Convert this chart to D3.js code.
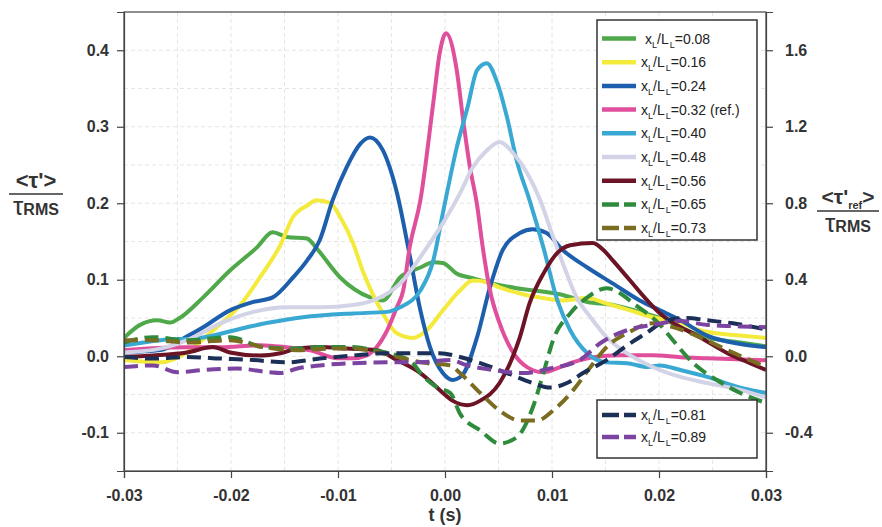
<!DOCTYPE html>
<html>
<head>
<meta charset="utf-8">
<script src="https://cdn.jsdelivr.net/npm/d3@7"></script>
<style>
  html, body { margin: 0; padding: 0; background: #ffffff; }
  svg { display: block; font-family: "Liberation Sans", Arial, sans-serif; }
</style>
</head>
<body>
<svg id="chart" width="882" height="527"></svg>
<script>
// ---------- data (t in s, value = <tau'>/tau_RMS ; ref series on right axis) ----------
const xTicks = [-0.03, -0.02, -0.01, 0.00, 0.01, 0.02, 0.03];
const yLeftTicks = [-0.1, 0.0, 0.1, 0.2, 0.3, 0.4];
const yRightTicks = [-0.4, 0.0, 0.4, 0.8, 1.2, 1.6];

const s008 = [[-0.0300,0.024],[-0.0285,0.041],[-0.0269,0.047],[-0.0257,0.044],[-0.0248,0.050],[-0.0226,0.077],[-0.0201,0.112],[-0.0176,0.142],[-0.0161,0.162],[-0.0148,0.156],[-0.0129,0.154],[-0.0120,0.141],[-0.0098,0.103],[-0.0070,0.077],[-0.0058,0.073],[-0.0042,0.103],[-0.0023,0.116],[-0.0011,0.123],[-0.0002,0.122],[0.0011,0.108],[0.0026,0.102],[0.0045,0.095],[0.0067,0.089],[0.0089,0.085],[0.0107,0.081],[0.0133,0.071],[0.0157,0.067],[0.0182,0.058],[0.0201,0.050],[0.0220,0.038],[0.0238,0.027],[0.0276,0.018],[0.0300,0.013]];
const s016 = [[-0.0300,-0.005],[-0.0266,-0.008],[-0.0238,0.008],[-0.0220,0.030],[-0.0189,0.071],[-0.0173,0.103],[-0.0154,0.145],[-0.0142,0.182],[-0.0129,0.197],[-0.0120,0.204],[-0.0107,0.200],[-0.0098,0.182],[-0.0086,0.148],[-0.0077,0.112],[-0.0058,0.056],[-0.0045,0.030],[-0.0030,0.024],[-0.0017,0.034],[-0.0002,0.060],[0.0014,0.086],[0.0026,0.099],[0.0039,0.097],[0.0051,0.090],[0.0070,0.082],[0.0092,0.076],[0.0110,0.073],[0.0133,0.076],[0.0151,0.069],[0.0173,0.060],[0.0194,0.051],[0.0220,0.044],[0.0238,0.034],[0.0276,0.027],[0.0300,0.024]];
const s024 = [[-0.0300,0.005],[-0.0266,0.008],[-0.0241,0.026],[-0.0226,0.038],[-0.0201,0.060],[-0.0179,0.071],[-0.0161,0.077],[-0.0142,0.103],[-0.0129,0.125],[-0.0117,0.152],[-0.0105,0.204],[-0.0092,0.247],[-0.0079,0.278],[-0.0070,0.286],[-0.0058,0.269],[-0.0045,0.214],[-0.0033,0.132],[-0.0023,0.060],[-0.0014,0.012],[-0.0002,-0.022],[0.0007,-0.031],[0.0016,-0.025],[0.0030,0.025],[0.0042,0.090],[0.0054,0.139],[0.0070,0.161],[0.0082,0.166],[0.0095,0.161],[0.0110,0.139],[0.0133,0.116],[0.0157,0.095],[0.0182,0.073],[0.0201,0.060],[0.0220,0.047],[0.0245,0.027],[0.0276,0.016],[0.0300,0.012]];
// reference series, right-axis units <tau'_ref>/tau_RMS
const s032ref = [[-0.0300,0.031],[-0.0273,0.042],[-0.0241,0.047],[-0.0210,0.047],[-0.0173,0.058],[-0.0148,0.047],[-0.0126,0.031],[-0.0101,-0.010],[-0.0086,-0.010],[-0.0073,0.005],[-0.0064,0.047],[-0.0054,0.136],[-0.0045,0.256],[-0.0039,0.345],[-0.0033,0.570],[-0.0023,0.816],[-0.0011,1.323],[-0.0005,1.584],[0.0001,1.689],[0.0011,1.495],[0.0017,1.234],[0.0023,0.999],[0.0030,0.790],[0.0035,0.580],[0.0042,0.345],[0.0051,0.173],[0.0064,0.016],[0.0077,-0.058],[0.0092,-0.084],[0.0107,-0.058],[0.0120,-0.031],[0.0138,-0.005],[0.0164,0.005],[0.0194,0.005],[0.0220,-0.005],[0.0245,-0.010],[0.0300,-0.021]];
const s040 = [[-0.0300,0.014],[-0.0266,0.021],[-0.0229,0.024],[-0.0185,0.038],[-0.0164,0.044],[-0.0133,0.051],[-0.0086,0.056],[-0.0054,0.058],[-0.0042,0.064],[-0.0023,0.086],[-0.0011,0.125],[-0.0002,0.187],[0.0011,0.273],[0.0021,0.325],[0.0030,0.374],[0.0039,0.383],[0.0049,0.357],[0.0058,0.312],[0.0067,0.256],[0.0079,0.204],[0.0092,0.142],[0.0105,0.073],[0.0117,0.034],[0.0133,0.004],[0.0151,-0.008],[0.0170,-0.009],[0.0189,-0.014],[0.0201,-0.012],[0.0220,-0.018],[0.0245,-0.027],[0.0276,-0.041],[0.0300,-0.048]];
const s048 = [[-0.0300,0.005],[-0.0266,0.010],[-0.0241,0.021],[-0.0210,0.043],[-0.0179,0.058],[-0.0148,0.064],[-0.0117,0.064],[-0.0086,0.067],[-0.0067,0.073],[-0.0042,0.095],[-0.0017,0.142],[-0.0002,0.174],[0.0014,0.213],[0.0026,0.247],[0.0039,0.269],[0.0051,0.280],[0.0064,0.265],[0.0077,0.239],[0.0089,0.204],[0.0101,0.156],[0.0110,0.122],[0.0123,0.077],[0.0136,0.051],[0.0151,0.025],[0.0170,0.004],[0.0194,-0.014],[0.0220,-0.027],[0.0245,-0.035],[0.0276,-0.044],[0.0300,-0.054]];
const s056 = [[-0.0300,-0.001],[-0.0273,0.001],[-0.0241,0.005],[-0.0217,0.012],[-0.0201,0.005],[-0.0173,0.001],[-0.0154,0.004],[-0.0138,0.010],[-0.0117,0.012],[-0.0092,0.010],[-0.0064,0.008],[-0.0045,-0.005],[-0.0023,-0.022],[-0.0005,-0.044],[0.0007,-0.058],[0.0021,-0.064],[0.0033,-0.058],[0.0051,-0.035],[0.0070,0.025],[0.0079,0.069],[0.0092,0.108],[0.0105,0.135],[0.0117,0.145],[0.0138,0.148],[0.0148,0.139],[0.0157,0.125],[0.0173,0.099],[0.0189,0.073],[0.0201,0.056],[0.0213,0.044],[0.0238,0.025],[0.0264,0.004],[0.0285,-0.009],[0.0300,-0.018]];
const s065 = [[-0.0300,0.018],[-0.0273,0.025],[-0.0241,0.021],[-0.0201,0.025],[-0.0170,0.012],[-0.0138,0.010],[-0.0117,0.012],[-0.0086,0.012],[-0.0067,0.008],[-0.0045,0.001],[-0.0030,-0.009],[-0.0023,-0.022],[-0.0007,-0.041],[0.0005,-0.048],[0.0014,-0.075],[0.0033,-0.097],[0.0051,-0.114],[0.0067,-0.106],[0.0082,-0.067],[0.0092,-0.022],[0.0101,0.021],[0.0117,0.056],[0.0133,0.077],[0.0151,0.089],[0.0164,0.082],[0.0176,0.069],[0.0189,0.056],[0.0201,0.041],[0.0213,0.021],[0.0232,-0.009],[0.0254,-0.031],[0.0276,-0.048],[0.0300,-0.061]];
const s073 = [[-0.0300,0.021],[-0.0273,0.021],[-0.0241,0.018],[-0.0201,0.021],[-0.0170,0.012],[-0.0138,0.008],[-0.0107,0.010],[-0.0086,0.010],[-0.0061,0.005],[-0.0039,-0.003],[-0.0017,-0.009],[0.0005,-0.012],[0.0014,-0.022],[0.0033,-0.048],[0.0051,-0.071],[0.0070,-0.084],[0.0086,-0.084],[0.0101,-0.071],[0.0120,-0.044],[0.0136,-0.014],[0.0151,0.012],[0.0170,0.030],[0.0194,0.043],[0.0213,0.038],[0.0238,0.025],[0.0264,0.008],[0.0285,-0.005],[0.0300,-0.014]];
const s081 = [[-0.0300,-0.001],[-0.0273,-0.003],[-0.0241,-0.001],[-0.0210,-0.003],[-0.0179,-0.005],[-0.0148,-0.008],[-0.0117,-0.003],[-0.0086,0.001],[-0.0054,0.004],[-0.0023,0.004],[-0.0005,0.004],[0.0014,-0.001],[0.0033,-0.009],[0.0058,-0.022],[0.0082,-0.035],[0.0098,-0.041],[0.0114,-0.035],[0.0129,-0.022],[0.0151,-0.005],[0.0170,0.014],[0.0189,0.031],[0.0207,0.047],[0.0226,0.050],[0.0245,0.047],[0.0269,0.043],[0.0300,0.035]];
const s089 = [[-0.0300,-0.014],[-0.0273,-0.012],[-0.0250,-0.021],[-0.0226,-0.018],[-0.0194,-0.016],[-0.0164,-0.021],[-0.0154,-0.022],[-0.0138,-0.016],[-0.0117,-0.012],[-0.0086,-0.009],[-0.0054,-0.008],[-0.0023,-0.008],[0.0005,-0.005],[0.0021,-0.012],[0.0045,-0.018],[0.0073,-0.022],[0.0098,-0.016],[0.0126,-0.005],[0.0145,0.017],[0.0170,0.034],[0.0194,0.041],[0.0220,0.046],[0.0245,0.041],[0.0276,0.039],[0.0300,0.038]];

const seriesLabels = ["0.08", "0.16", "0.24", "0.32 (ref.)", "0.40", "0.48", "0.56", "0.65", "0.73", "0.81", "0.89"];
const seriesData = [s008, s016, s024, s032ref, s040, s048, s056, s065, s073, s081, s089];
const seriesAxis = ["left","left","left","right","left","left","left","left","left","left","left"];
const seriesColors = ["#4fa94a", "#f3ea3c", "#1d5fac", "#e04f9c", "#39a8d2", "#d3d3e8", "#6c1426", "#2f8b3c", "#7a6d22", "#1b2f57", "#7a44a0"];
const seriesDashed = [false, false, false, false, false, false, false, true, true, true, true];

// ---------- layout ----------
const svg = d3.select("#chart");
const L = 124, R = 766, T = 12, B = 471;
const x = d3.scaleLinear().domain([-0.03, 0.03]).range([L, R]);
const yL = d3.scaleLinear().domain([-0.15, 0.45]).range([B, T]);
const yR = d3.scaleLinear().domain([-0.6, 1.8]).range([B, T]);
const hy = s => s.replace("\u2212", "-");
const txtCol = "#333";

// grid
const grid = svg.append("g").attr("stroke", "#e6e6e6").attr("stroke-width", 1).attr("stroke-dasharray", "4,3");
d3.range(-0.025, 0.0301, 0.005).forEach(v => {
  grid.append("line").attr("x1", x(v)).attr("x2", x(v)).attr("y1", T).attr("y2", B);
});
d3.range(-0.10, 0.4001, 0.05).forEach(v => {
  grid.append("line").attr("x1", L).attr("x2", R).attr("y1", yL(v)).attr("y2", yL(v));
});

// clip
svg.append("clipPath").attr("id", "clip").append("rect")
  .attr("x", L).attr("y", T).attr("width", R - L).attr("height", B - T);

// lines
const lines = svg.append("g").attr("clip-path", "url(#clip)");
seriesData.forEach((d, i) => {
  const ys = seriesAxis[i] === "right" ? yR : yL;
  const gen = d3.line().x(p => x(p[0])).y(p => ys(p[1])).curve(d3.curveMonotoneX);
  lines.append("path")
    .attr("d", gen(d))
    .attr("fill", "none")
    .attr("stroke", seriesColors[i])
    .attr("stroke-width", 4)
    .attr("stroke-linejoin", "round")
    .attr("stroke-dasharray", seriesDashed[i] ? "14,7" : null);
});

// frame
svg.append("rect").attr("x", L).attr("y", T).attr("width", R - L).attr("height", B - T)
  .attr("fill", "none").attr("stroke", "#444").attr("stroke-width", 1.2);

// axes
function styleAxis(g) {
  g.select(".domain").attr("stroke", "#444").attr("stroke-width", 1.2);
  g.selectAll(".tick line").attr("stroke", "#444").attr("stroke-width", 1.2);
  g.selectAll(".tick text").attr("fill", txtCol).attr("font-size", 16).attr("font-weight", "bold")
    .attr("font-family", "'Liberation Sans', Arial, sans-serif");
}
svg.append("g").attr("transform", `translate(0,${B})`)
  .call(d3.axisBottom(x).tickValues(xTicks).tickSize(7).tickPadding(12).tickFormat(v => hy(d3.format(".2f")(v))))
  .call(styleAxis);
svg.append("g").attr("transform", `translate(${L},0)`)
  .call(d3.axisLeft(yL).tickValues(yLeftTicks).tickSize(7).tickPadding(8).tickFormat(v => hy(d3.format(".1f")(v))))
  .call(styleAxis);
svg.append("g").attr("transform", `translate(${R},0)`)
  .call(d3.axisRight(yR).tickValues(yRightTicks).tickSize(7).tickPadding(12).tickFormat(v => hy(d3.format(".1f")(v))))
  .call(styleAxis);

// axis titles
svg.append("text").attr("x", 445).attr("y", 521).attr("text-anchor", "middle")
  .attr("font-size", 18).attr("font-weight", "bold").attr("fill", txtCol).text("t (s)");

// left title
const lt = svg.append("g").attr("fill", txtCol).attr("font-weight", "bold");
lt.append("text").attr("x", 36).attr("y", 188).attr("text-anchor", "middle").attr("font-size", 22).text("<\u03C4'>");
lt.append("line").attr("x1", 9).attr("x2", 63).attr("y1", 194).attr("y2", 194).attr("stroke", txtCol).attr("stroke-width", 1.5);
const lb = lt.append("text").attr("x", 36).attr("y", 215).attr("text-anchor", "middle");
lb.append("tspan").attr("font-size", 26).attr("font-weight", "normal").text("\u03C4");
lb.append("tspan").attr("font-size", 16).text("RMS");

// right title
const rt = svg.append("g").attr("fill", txtCol).attr("font-weight", "bold");
const rtop = rt.append("text").attr("x", 848).attr("y", 204).attr("text-anchor", "middle").attr("font-size", 21);
rtop.append("tspan").text("<\u03C4'");
rtop.append("tspan").attr("font-size", 11).attr("dy", 5).text("ref");
rtop.append("tspan").attr("dy", -5).text(">");
rt.append("line").attr("x1", 817).attr("x2", 879).attr("y1", 211).attr("y2", 211).attr("stroke", txtCol).attr("stroke-width", 1.5);
const rb = rt.append("text").attr("x", 848).attr("y", 232).attr("text-anchor", "middle");
rb.append("tspan").attr("font-size", 26).attr("font-weight", "normal").text("\u03C4");
rb.append("tspan").attr("font-size", 16).text("RMS");

// legends
function legendBox(x0, y0, w, h, idx, rowStart, rowStep) {
  const g = svg.append("g");
  g.append("rect").attr("x", x0).attr("y", y0).attr("width", w).attr("height", h)
    .attr("fill", "#fff").attr("stroke", "#333").attr("stroke-width", 1.5);
  idx.forEach((i, k) => {
    const cy = rowStart + k * rowStep;
    g.append("line").attr("x1", x0 + 5).attr("x2", x0 + 39).attr("y1", cy).attr("y2", cy)
      .attr("stroke", seriesColors[i]).attr("stroke-width", 4.5)
      .attr("stroke-dasharray", seriesDashed[i] ? "17,5" : null);
    const t = g.append("text").attr("x", x0 + 44 + (i === 0 ? 4 : 0)).attr("y", cy + 5)
      .attr("font-size", 14).attr("fill", "#222");
    t.append("tspan").text("x");
    t.append("tspan").attr("font-size", 9).attr("dy", 4).text("L");
    t.append("tspan").attr("dy", -4).text("/L");
    t.append("tspan").attr("font-size", 9).attr("dy", 4).attr("dx", 1).text("L");
    t.append("tspan").attr("dy", -4).text("=" + seriesLabels[i]);
  });
}
legendBox(597, 20, 160, 220, [0,1,2,3,4,5,6,7,8], 38.5, 23.7);
legendBox(597, 400, 160, 58, [9,10], 415, 22);
</script>
</body>
</html>
